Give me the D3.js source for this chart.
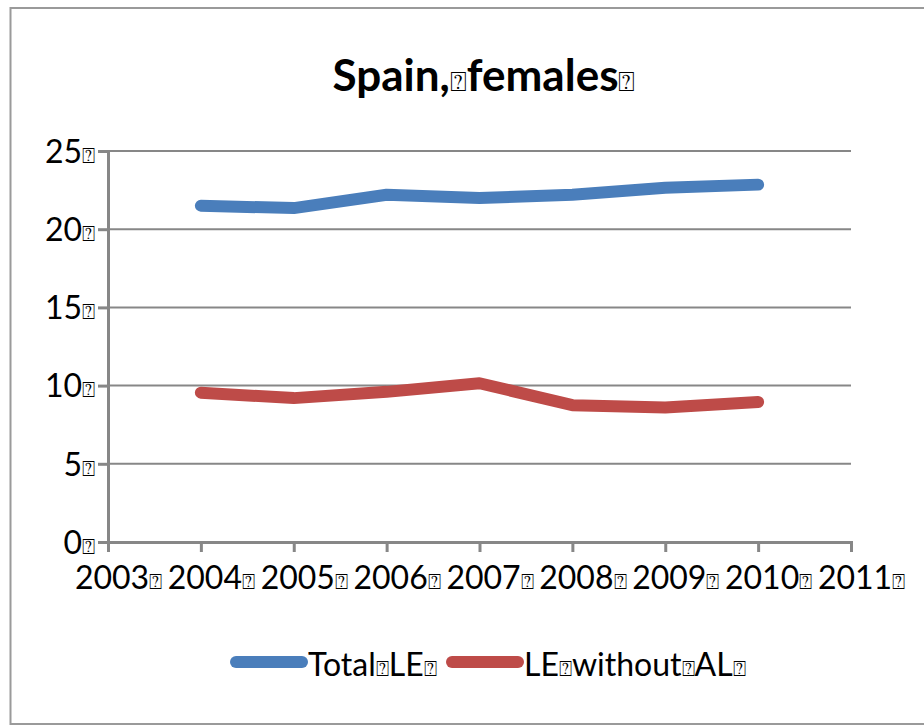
<!DOCTYPE html>
<html>
<head>
<meta charset="utf-8">
<script src="https://cdn.jsdelivr.net/npm/d3@7"></script>
<style>
  body { margin: 0; background: #fff; }
  text { font-family: Lato, "Open Sans", sans-serif; fill: #000; }
  .box { font-family: "DejaVu Sans", sans-serif; font-weight: normal; }
</style>
</head>
<body>
<div id="chart"></div>
<script>
// chart values
var years = [2004, 2005, 2006, 2007, 2008, 2009, 2010];
var totalLE = [21.5, 21.35, 22.2, 22.0, 22.2, 22.65, 22.85];
var leWithoutAL = [9.55, 9.2, 9.6, 10.15, 8.75, 8.6, 8.95];
var seriesNames = ["Total\u2370LE\u2370", "LE\u2370without\u2370AL\u2370"];
var titleText = "Spain,\u2370females\u2370";
var yTicks = [0, 5, 10, 15, 20, 25];
var xTicks = [2003, 2004, 2005, 2006, 2007, 2008, 2009, 2010, 2011];

var BOX = "\u2370";
var colors = ["#4a7ebb", "#be4b48"];

var width = 924, height = 726;

var svg = d3.select("#chart").append("svg")
    .attr("width", width)
    .attr("height", height);

// outer frame
svg.append("rect")
    .attr("x", 10.5).attr("y", 8)
    .attr("width", 940).attr("height", 716)
    .attr("fill", "#fff")
    .attr("stroke", "#9a9a9a")
    .attr("stroke-width", 2);

// writes text, putting the missing-glyph boxes in their own tspans
function boxText(sel, str, boxSize) {
    sel.text(null);
    var parts = str.split(BOX);
    parts.forEach(function(p, i) {
        if (p.length) {
            sel.append("tspan").text(p);
        }
        if (i < parts.length - 1) {
            sel.append("tspan").attr("class", "box")
                .style("font-size", boxSize + "px")
                .text(BOX);
        }
    });
}

var x = d3.scaleLinear()
    .domain([2003, 2011])
    .range([108, 851]);

var y = d3.scaleLinear()
    .domain([0, 25])
    .range([542, 151]);

// title
svg.append("text")
    .attr("x", 484).attr("y", 91)
    .attr("text-anchor", "middle")
    .style("font-size", "44px")
    .style("font-weight", "bold")
    .call(boxText, titleText, 28);

// gridlines
svg.append("g")
    .selectAll("line")
    .data(yTicks.filter(function(d) { return d > 0; }))
    .enter().append("line")
    .attr("x1", x(2003)).attr("x2", x(2011))
    .attr("y1", function(d) { return y(d); })
    .attr("y2", function(d) { return y(d); })
    .attr("stroke", "#878787")
    .attr("stroke-width", 2);

// y axis
var yAxis = svg.append("g")
    .attr("transform", "translate(" + x(2003) + ",0)")
    .call(d3.axisLeft(y).tickValues(yTicks).tickSize(10).tickPadding(3).tickFormat(function(d) { return d + BOX; }));

// x axis
var xAxis = svg.append("g")
    .attr("transform", "translate(0," + y(0) + ")")
    .call(d3.axisBottom(x).tickValues(xTicks).tickSize(10).tickPadding(14).tickFormat(function(d) { return d + BOX; }));

[yAxis, xAxis].forEach(function(ax) {
    ax.select(".domain").attr("stroke", "#878787").attr("stroke-width", 3);
    ax.selectAll(".tick line").attr("stroke", "#878787").attr("stroke-width", 3);
    ax.selectAll(".tick text")
        .attr("fill", "#000")
        .style("font-family", "Lato, sans-serif")
        .style("font-size", "32px")
        .each(function() {
            var t = d3.select(this);
            boxText(t, t.text(), 22);
        });
});
yAxis.selectAll(".tick text").attr("dy", "0.35em");
xAxis.selectAll(".tick text").attr("dx", 10).attr("dy", "0.71em");

// lines
var line = d3.line()
    .x(function(d, i) { return x(years[i]); })
    .y(function(d) { return y(d); });

[totalLE, leWithoutAL].forEach(function(vals, k) {
    svg.append("path")
        .datum(vals)
        .attr("d", line)
        .attr("fill", "none")
        .attr("stroke", colors[k])
        .attr("stroke-width", 12)
        .attr("stroke-linecap", "round")
        .attr("stroke-linejoin", "round");
});

// legend
var legendX = [236, 452];
seriesNames.forEach(function(name, k) {
    var g = svg.append("g").attr("transform", "translate(" + legendX[k] + ",662)");
    g.append("line")
        .attr("x1", 0).attr("x2", 66)
        .attr("stroke", colors[k])
        .attr("stroke-width", 12)
        .attr("stroke-linecap", "round");
    g.append("text")
        .attr("x", 72).attr("y", 14)
        .style("font-size", "32px")
        .call(boxText, name, 22);
});
</script>
</body>
</html>
